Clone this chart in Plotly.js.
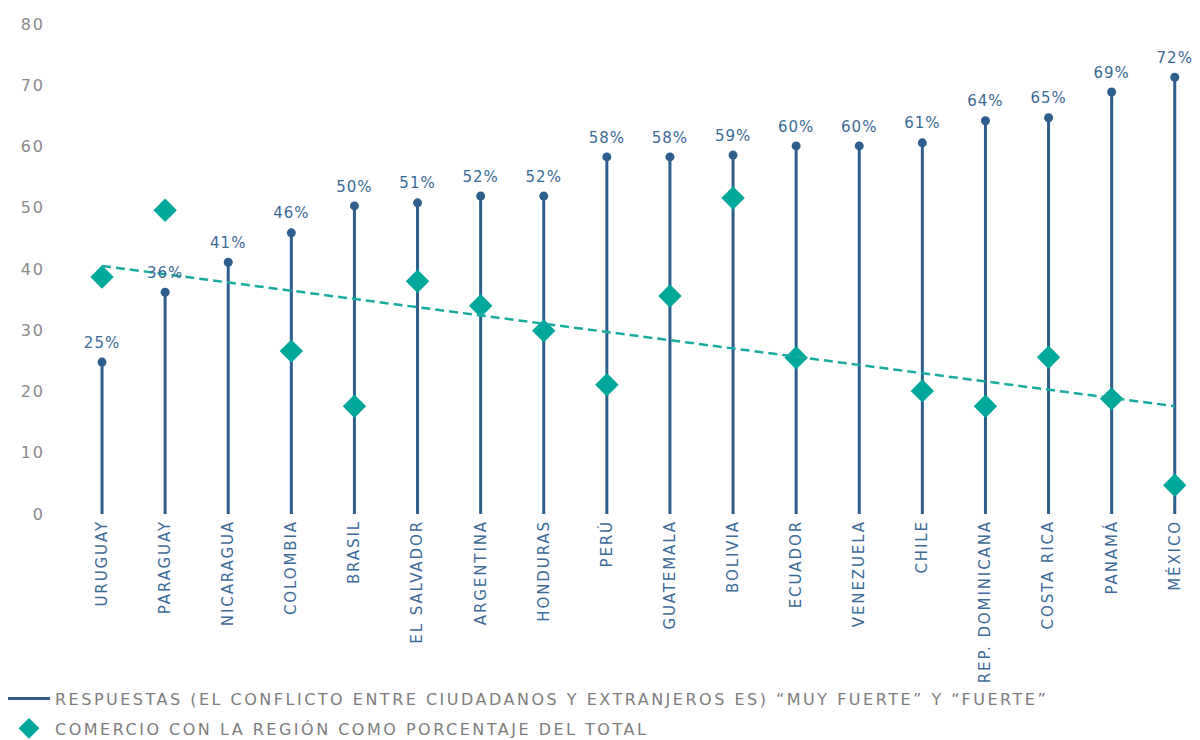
<!DOCTYPE html>
<html><head><meta charset="utf-8">
<script src="https://cdn.plot.ly/plotly-3.0.1.min.js"></script>
<style>
html,body{margin:0;padding:0;background:#fff;}
#chart{width:1200px;height:740px;}
#chart .legendtext{letter-spacing:2.5px;}
#chart .legend .scrollbox{clip-path:none !important;}
#chart .legend{clip-path:none !important;}
#chart .xtick text{letter-spacing:1.9px;}
#chart .ytick text{letter-spacing:2px;}
#chart .textpoint text{letter-spacing:1px; transform:translateY(-4px);}
</style>
</head><body><div id="chart"></div>
<script>
const countries = ["URUGUAY","PARAGUAY","NICARAGUA","COLOMBIA","BRASIL","EL SALVADOR","ARGENTINA","HONDURAS","PERÚ","GUATEMALA","BOLIVIA","ECUADOR","VENEZUELA","CHILE","REP. DOMINICANA","COSTA RICA","PANAMÁ","MÉXICO"];
const respuestas = [24.8,36.2,41.1,45.9,50.3,50.8,51.9,51.9,58.3,58.3,58.6,60.1,60.1,60.6,64.2,64.7,68.9,71.3];
const respuestasLabels = ["25%","36%","41%","46%","50%","51%","52%","52%","58%","58%","59%","60%","60%","61%","64%","65%","69%","72%"];
const comercio = [38.7,49.6,null,26.6,17.6,38.0,34.0,29.9,21.1,35.6,51.6,25.5,null,20.1,17.6,25.6,18.8,4.7];
const tendenciaX = ["URUGUAY","MÉXICO"];
const tendenciaY = [40.5,17.6];

const FONT = "DejaVu Sans";
const blue = "#2e5e8c";
const teal = "#00a79b";

// stems built from data
const stemX = [], stemY = [];
countries.forEach((c,i)=>{ stemX.push(c,c,null); stemY.push(0,respuestas[i],null); });

const traces = [
  {x: stemX, y: stemY, type:"scatter", mode:"lines", line:{color:blue,width:3}, legendgroup:"a",
   name:"RESPUESTAS (EL CONFLICTO ENTRE CIUDADANOS Y EXTRANJEROS ES) “MUY FUERTE” Y “FUERTE”", hoverinfo:"skip"},
  {x: countries, y: comercio, type:"scatter", mode:"markers", legendgroup:"b",
   marker:{symbol:"diamond", size:18, color:teal},
   name:"COMERCIO CON LA REGIÓN COMO PORCENTAJE DEL TOTAL"},
  {x: tendenciaX, y: tendenciaY, type:"scatter", mode:"lines",
   line:{color:"#1aab9f", width:2.5, dash:"9px,5px"}, showlegend:false, hoverinfo:"skip"},
  {x: countries, y: respuestas, type:"scatter", mode:"markers+text",
   marker:{size:9, color:blue}, text: respuestasLabels, textposition:"top center",
   textfont:{family:FONT, size:15, color:"#3a6a96"}, showlegend:false, cliponaxis:false}
];

const layout = {
  width:1200, height:740,
  margin:{l:60, r:0, t:24, b:226, autoexpand:false},
  paper_bgcolor:"#fff", plot_bgcolor:"#fff",
  font:{family:FONT, color:"#888"},
  showlegend:true,
  legend:{orientation:"v", x:-0.05, xanchor:"left", y:-0.342, yanchor:"top",
          font:{family:FONT, size:16, color:"#7d7d7d"}, tracegroupgap:6, itemsizing:"trace", itemwidth:42},
  xaxis:{type:"category", categoryorder:"array", categoryarray:countries,
         range:[-0.666,17.4], showgrid:false, zeroline:false, showline:false, ticks:"",
         tickangle:-90, tickfont:{family:FONT, size:15, color:"#3d6b99"}, ticklabelstandoff:2},
  yaxis:{range:[0,80], dtick:10, showgrid:false, zeroline:false, showline:false, ticks:"",
         tickfont:{family:FONT, size:16, color:"#8a8a8a"}, ticklabelstandoff:14}
};

Plotly.newPlot("chart", traces, layout, {displayModeBar:false, staticPlot:true});
</script></body></html>
